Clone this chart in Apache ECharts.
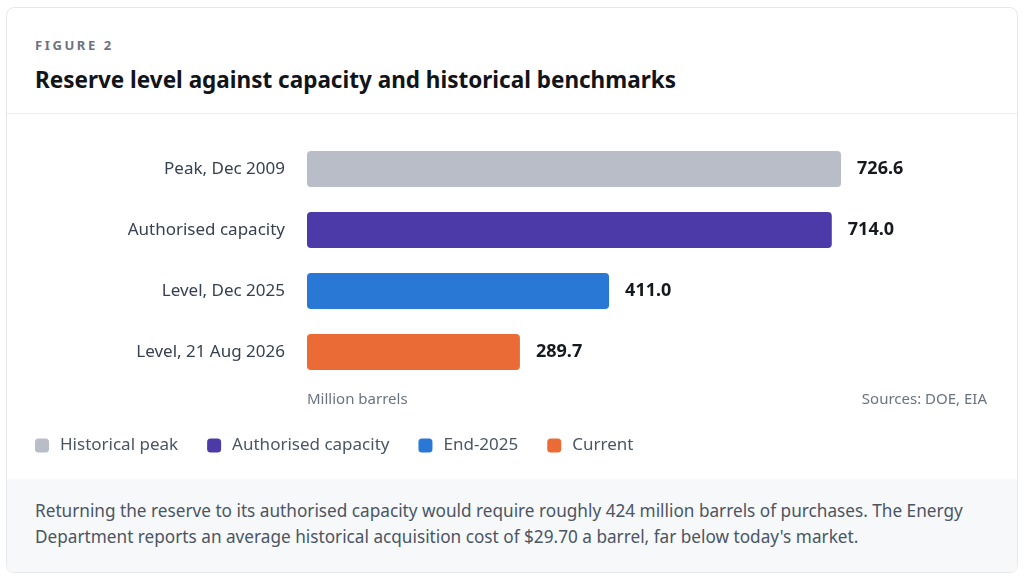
<!DOCTYPE html>
<html lang="en">
<head>
    <meta charset="UTF-8">
    <title>Reserve level</title>
    <script src="https://cdn.jsdelivr.net/npm/echarts@6/dist/echarts.min.js"></script>
    <style>
        body {margin: 0; background: #ffffff; font-family: "Noto Sans", sans-serif;}
        .card {position: absolute; left: 6px; top: 7px; width: 1010px; height: 564px; border: 1px solid #e6e8eb; border-radius: 8px; overflow: hidden; background: #fff;}
        .head {height: 106px; border-bottom: 1px solid #eceef1; box-sizing: border-box; padding-left: 28px;}
        .fig {padding-top: 29px; font-size: 13px; font-weight: 700; letter-spacing: 2.6px; color: #6b7280; line-height: 16px;}
        .title {margin-top: 12px; font-size: 22.5px; font-weight: 700; color: #111418; line-height: 30px;}
        .foot {position: absolute; left: 0; top: 471px; width: 100%; height: 94px; background: #f6f8fa; box-sizing: border-box; padding: 19px 0 0 28px; font-size: 17.2px; line-height: 26px; color: #4b5563;}
        .main {position: absolute; left: 0; top: 115px; width: 1024px; height: 363px;}
    </style>
</head>
<body>
<div class="card">
    <div class="head">
        <div class="fig">FIGURE 2</div>
        <div class="title">Reserve level against capacity and historical benchmarks</div>
    </div>
    <div class="foot">Returning the reserve to its authorised capacity would require roughly 424 million barrels of purchases. The Energy<br>Department reports an average historical acquisition cost of $29.70 a barrel, far below today's market.</div>
</div>
<div class="main"></div>
<script>
    let categories = ['Peak, Dec 2009', 'Authorised capacity', 'Level, Dec 2025', 'Level, 21 Aug 2026'];
    let values = [726.6, 714.0, 411.0, 289.7];
    let seriesNames = ['Historical peak', 'Authorised capacity', 'End-2025', 'Current'];
    let colors = ['#b8bdc8', '#4b3aa7', '#2a78d6', '#eb6b36'];

    let myChart = echarts.init(document.querySelector('.main'));
    let series = [];
    seriesNames.forEach((name, i) => {
        series.push({
            name: name,
            type: 'bar',
            stack: 'one',
            barWidth: 36,
            data: values.map((v, j) => j == i ? v : '-'),
            itemStyle: {color: colors[i], borderRadius: 4},
            label: {
                show: true,
                position: 'right',
                distance: 16,
                formatter: p => p.value.toFixed(1),
                color: '#16191d',
                fontSize: 18,
                fontWeight: 'bold',
                fontFamily: 'Noto Sans'
            }
        });
    });

    let option = {
        animation: false,
        textStyle: {fontFamily: 'Noto Sans'},
        grid: {left: 307, top: 23.5, width: 588, height: 244},
        xAxis: {
            type: 'value', min: 0, max: 800, show: false
        },
        yAxis: {
            type: 'category',
            data: categories,
            inverse: true,
            axisLine: {show: false},
            axisTick: {show: false},
            axisLabel: {color: '#374151', fontSize: 17, margin: 22}
        },
        legend: {
            data: seriesNames,
            left: 30,
            top: 317,
            icon: 'roundRect',
            itemWidth: 14,
            itemHeight: 14,
            itemGap: 29,
            textStyle: {color: '#4b5563', fontSize: 17, padding: [0, 0, 0, 6]}
        },
        graphic: [
            {type: 'text', left: 307, top: 277, style: {text: 'Million barrels', fill: '#6b7280', font: '15px "Noto Sans"'}},
            {type: 'text', right: 37, top: 277, style: {text: 'Sources: DOE, EIA', fill: '#6b7280', font: '15px "Noto Sans"'}}
        ],
        series
    };
    myChart.setOption(option);
</script>
</body>
</html>
